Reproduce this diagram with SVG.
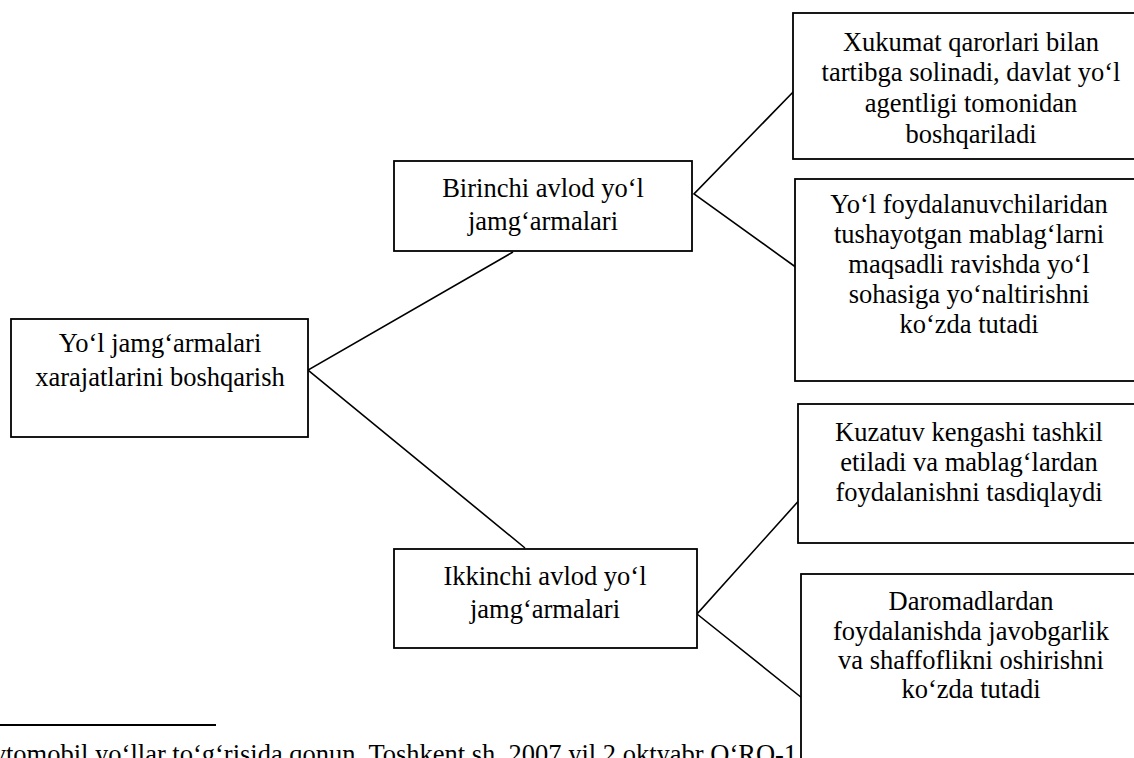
<svg xmlns="http://www.w3.org/2000/svg" width="1134" height="758" viewBox="0 0 1134 758">
<style>
.box{fill:#fff;stroke:#000;stroke-width:1.8}
.t{font-family:"Liberation Serif","Times New Roman",serif;font-size:26.5px;fill:#000;text-anchor:middle}
.fn{font-family:"Liberation Serif","Times New Roman",serif;font-size:26.5px;fill:#000}
.ln{stroke:#000;stroke-width:1.6;fill:none}
</style>
<rect width="1134" height="758" fill="#fff"/>
<g id="footnote">
<line x1="0" y1="725" x2="216" y2="725" stroke="#000" stroke-width="2"/>
<text class="fn" x="-19" y="763">avtomobil yo‘llar to‘g‘risida qonun. Toshkent sh. 2007 yil 2 oktyabr O‘RQ-1</text>
</g>
<g id="connectors">
<polyline class="ln" points="513,252 308,370 525,548"/>
<polyline class="ln" points="796,89 694,194 797,268"/>
<polyline class="ln" points="803,496 697,614 802,698"/>
</g>
<g id="root">
<rect class="box" x="11" y="319" width="297" height="118"/>
<text class="t" x="160" y="352">Yo‘l jamg‘armalari</text>
<text class="t" x="160" y="386">xarajatlarini boshqarish</text>
</g>
<g id="gen1">
<rect class="box" x="394" y="161" width="298" height="90"/>
<text class="t" x="543" y="197">Birinchi avlod yo‘l</text>
<text class="t" x="543" y="230">jamg‘armalari</text>
</g>
<g id="gen2">
<rect class="box" x="394" y="549" width="303" height="99"/>
<text class="t" x="545" y="585">Ikkinchi avlod yo‘l</text>
<text class="t" x="545" y="618">jamg‘armalari</text>
</g>
<g id="g1a">
<rect class="box" x="793" y="13" width="360" height="146"/>
<text class="t" x="971" y="51">Xukumat qarorlari bilan</text>
<text class="t" x="971" y="81">tartibga solinadi, davlat yo‘l</text>
<text class="t" x="971" y="112">agentligi tomonidan</text>
<text class="t" x="971" y="143">boshqariladi</text>
</g>
<g id="g1b">
<rect class="box" x="795" y="179" width="360" height="202"/>
<text class="t" x="969" y="213">Yo‘l foydalanuvchilaridan</text>
<text class="t" x="969" y="243">tushayotgan mablag‘larni</text>
<text class="t" x="969" y="273">maqsadli ravishda yo‘l</text>
<text class="t" x="969" y="303">sohasiga yo‘naltirishni</text>
<text class="t" x="969" y="333">ko‘zda tutadi</text>
</g>
<g id="g2a">
<rect class="box" x="798" y="404" width="360" height="139"/>
<text class="t" x="969" y="441">Kuzatuv kengashi tashkil</text>
<text class="t" x="969" y="471">etiladi va mablag‘lardan</text>
<text class="t" x="969" y="501">foydalanishni tasdiqlaydi</text>
</g>
<g id="g2b">
<rect class="box" x="801" y="574" width="360" height="200"/>
<text class="t" x="971" y="610">Daromadlardan</text>
<text class="t" x="971" y="640">foydalanishda javobgarlik</text>
<text class="t" x="971" y="669">va shaffoflikni oshirishni</text>
<text class="t" x="971" y="698">ko‘zda tutadi</text>
</g>
</svg>
